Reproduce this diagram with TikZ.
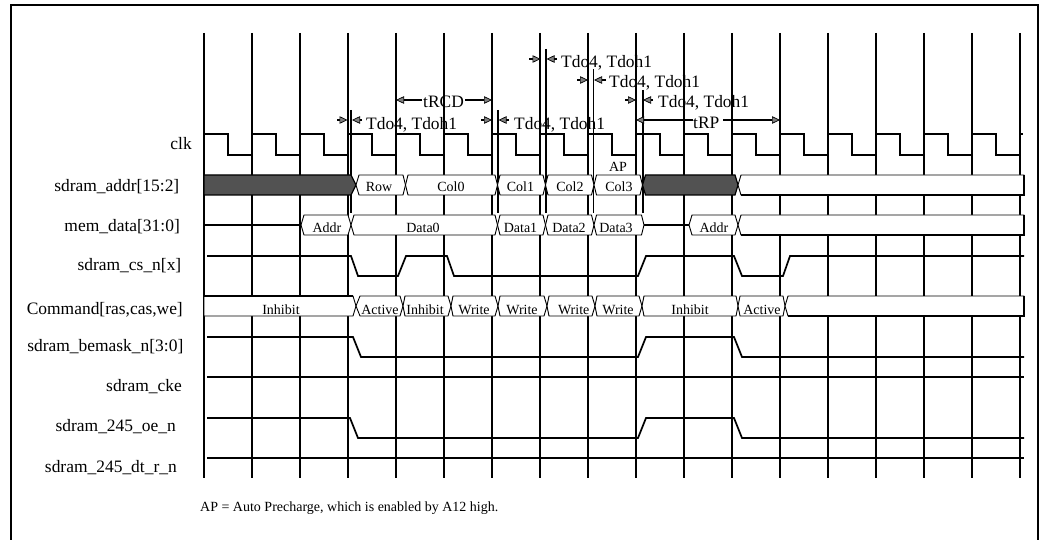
\documentclass[tikz,border=0pt]{standalone}
\usepackage{fontspec}
\setmainfont{Liberation Serif}
\usetikzlibrary{arrows.meta}
\tikzset{
  gridline/.style={line width=1.9pt,black},
  sig/.style={line width=1.7pt,black,line join=miter},
  busw/.style={fill=white,draw=black,line width=0.9pt,line join=miter},
  busd/.style={fill=black!68,draw=black,line width=1.2pt,line join=miter},
  heavy/.style={line width=1.8pt,black},
  dim/.style={line width=1.4pt,black,-{Triangle[length=8pt,width=7.5pt,fill=black!50,line width=0.7pt]}},
  lab/.style={anchor=base east,inner sep=0pt,font=\fontsize{17.45}{20}\selectfont},
  tim/.style={anchor=base west,inner sep=0pt,font=\fontsize{17.4}{20}\selectfont},
  txt/.style={anchor=base,inner sep=0pt,font=\fontsize{14}{16}\selectfont}
}
% left tip, left corner, right corner, right tip, top y
\newcommand{\wbus}[5]{\path[busw] (#1,#5+10)--(#2,#5)--(#3,#5)--(#4,#5+10)--(#3,#5+20)--(#2,#5+20)--cycle;}
\begin{document}
\begin{tikzpicture}[x=1pt,y=-1pt]
\useasboundingbox (0,0) rectangle (1044,540);
% frame
\draw[line width=2pt] (11,540)--(11,5)--(1038,5)--(1038,540);
% grid
\foreach \k in {0,...,17} \draw[gridline] ({204+48*\k},33)--({204+48*\k},478);
% delay markers
\draw[gridline] (351,110)--(351,213);
\draw[gridline] (498,110)--(498,213);
\draw[gridline] (546,49)--(546,213);
\draw[gridline] (593.5,69)--(593.5,213);
\draw[gridline] (643,90)--(643,213);
% clock
\foreach \k in {0,...,16} \draw[sig] ({204+48*\k},155)--({204+48*\k},134)--({228+48*\k},134)--({228+48*\k},155)--({252+48*\k},155);
\draw[sig] (1020,134)--(1023,134);
% sdram_addr
\path[busd] (204,175)--(351,175)--(356,185)--(351,195)--(204,195)--cycle;
\wbus{356}{359}{403}{405.5}{175}
\wbus{405.5}{408}{495}{497.5}{175}
\wbus{497.5}{500}{543}{545.5}{175}
\wbus{545.5}{548}{591.5}{594}{175}
\wbus{594}{596.5}{640}{642.5}{175}
\path[busd] (642.5,185)--(645.5,175)--(735,175)--(738,185)--(735,195)--(645.5,195)--cycle;
\path[busw] (738,185)--(741,175)--(1024,175)--(1024,195)--(741,195)--cycle;
\draw[heavy] (741,195)--(1024,195)--(1024,175);
% mem_data
\draw[sig] (204,225)--(301,225);
\draw[sig] (644,225)--(689,225);
\wbus{301}{304}{348}{351}{215}
\wbus{351}{354}{495}{497.5}{215}
\wbus{497.5}{500}{543}{545.5}{215}
\wbus{545.5}{548}{591.5}{594}{215}
\wbus{594}{596.5}{641.5}{644}{215}
\wbus{689}{692}{735}{738}{215}
\path[busw] (738,225)--(741,215)--(1024,215)--(1024,235)--(741,235)--cycle;
\draw[heavy] (741,235)--(1024,235)--(1024,215);
% sdram_cs_n
\draw[sig] (207,256)--(351,256)--(358,276)--(398,276)--(406,256)--(447,256)--(454,276)--(638,276)--(646,256)--(734,256)--(742,276)--(783,276)--(790,256)--(1024,256);
% Command
\path[busw] (204,296)--(353,296)--(356,306)--(353,316)--(204,316)--cycle;
\draw[heavy] (204,296)--(353,296);
\wbus{356}{360}{400}{403}{296}
\wbus{403}{405}{448}{451}{296}
\wbus{451}{453}{495}{498}{296}
\wbus{498}{500}{544}{547}{296}
\wbus{547}{549}{592}{595}{296}
\wbus{595}{597}{639}{642}{296}
\wbus{642}{644}{736}{738}{296}
\wbus{738}{740}{783}{785}{296}
\path[busw] (785,306)--(788,296)--(1024,296)--(1024,316)--(788,316)--cycle;
\draw[heavy] (788,316)--(1024,316)--(1024,296);
% bemask
\draw[sig] (207,337)--(353,337)--(361,357)--(638,357)--(646,337)--(734,337)--(742,357)--(1024,357);
% cke
\draw[sig] (207,377)--(1024,377);
% oe
\draw[sig] (207,418)--(350,418)--(358,438)--(638,438)--(646,418)--(734,418)--(742,438)--(1024,438);
% dt
\draw[sig] (207,458)--(1024,458);
% Tdo markers
\coordinate (a1) at (337,120); \coordinate (a2) at (347.5,120); \coordinate (a3) at (362,120); \coordinate (a4) at (352,120);
\draw[dim] (a1)--(a2); \draw[dim] (a3)--(a4);
\coordinate (b1) at (481,120); \coordinate (b2) at (492,120); \coordinate (b3) at (509,120); \coordinate (b4) at (498.5,120);
\draw[dim] (b1)--(b2); \draw[dim] (b3)--(b4);
\coordinate (c1) at (529,59); \coordinate (c2) at (540.5,59); \coordinate (c3) at (557,59); \coordinate (c4) at (546.5,59);
\draw[dim] (c1)--(c2); \draw[dim] (c3)--(c4);
\coordinate (d1) at (577,80); \coordinate (d2) at (588,80); \coordinate (d3) at (606,80); \coordinate (d4) at (594,80);
\draw[dim] (d1)--(d2); \draw[dim] (d3)--(d4);
\coordinate (e1) at (625,100); \coordinate (e2) at (636,100); \coordinate (e3) at (653,100); \coordinate (e4) at (643,100);
\draw[dim] (e1)--(e2); \draw[dim] (e3)--(e4);
\node[tim] (t1) at (366,130) {Tdo4, Tdoh1};
\node[tim] (t2) at (514,130) {Tdo4, Tdoh1};
\node[tim] (t3) at (561,68) {Tdo4, Tdoh1};
\node[tim] (t4) at (609,88) {Tdo4, Tdoh1};
\node[tim] (t5) at (658,108) {Tdo4, Tdoh1};
% tRCD, tRP
\node[tim] (rcd) at (423,108) {tRCD};
\node[tim] (rp) at (693,129) {tRP};
\coordinate (rcdl) at (396,100); \coordinate (rcdr) at (492,100);
\coordinate (rcdm1) at (422,100); \coordinate (rcdm2) at (465,100);
\draw[dim] (rcdm1)--(rcdl); \draw[dim] (rcdm2)--(rcdr);
\coordinate (rpl) at (636,120); \coordinate (rpr) at (780,120);
\coordinate (rpm1) at (693,120); \coordinate (rpm2) at (723,120);
\draw[dim] (rpm1)--(rpl); \draw[dim] (rpm2)--(rpr);
% signal names
\node[lab] (n1) at (192,150) {clk};
\node[lab] (n2) at (179.5,192) {sdram\_addr[15:2]};
\node[lab] (n3) at (180,232) {mem\_data[31:0]};
\node[lab] (n4) at (181.5,270) {sdram\_cs\_n[x]};
\node[lab] (n5) at (183,314) {Command[ras,cas,we]};
\node[lab] (n6) at (183.5,351) {sdram\_bemask\_n[3:0]};
\node[lab] (n7) at (182,391) {sdram\_cke};
\node[lab] (n8) at (176,431) {sdram\_245\_oe\_n};
\node[lab] (n9) at (177,472) {sdram\_245\_dt\_r\_n};
% bus text
\node[txt] (v1) at (379,192) {Row};
\node[txt] (v2) at (451,192) {Col0};
\node[txt] (v3) at (520.5,192) {Col1};
\node[txt] (v4) at (570,192) {Col2};
\node[txt] (v5) at (619,192) {Col3};
\node[txt] (v6) at (618,172) {AP};
\node[txt] (w1) at (327,233) {Addr};
\node[txt] (w2) at (423,233) {Data0};
\node[txt] (w3) at (520.5,233) {Data1};
\node[txt] (w4) at (569,233) {Data2};
\node[txt] (w5) at (616,233) {Data3};
\node[txt] (w6) at (714,233) {Addr};
\node[txt] (u1) at (281,314) {Inhibit};
\node[txt] (u2) at (380,314) {Active};
\node[txt] (u3) at (425,314) {Inhibit};
\node[txt] (u4) at (474,314) {Write};
\node[txt] (u5) at (522,314) {Write};
\node[txt] (u6) at (573.7,314) {Write};
\node[txt] (u7) at (618,314) {Write};
\node[txt] (u8) at (690,314) {Inhibit};
\node[txt] (u9) at (762,314) {Active};
\node[anchor=base west,inner sep=0pt,font=\fontsize{14}{16}\selectfont] (foot) at (200,511) {AP = Auto Precharge, which is enabled by A12 high.};
\end{tikzpicture}
\end{document}
